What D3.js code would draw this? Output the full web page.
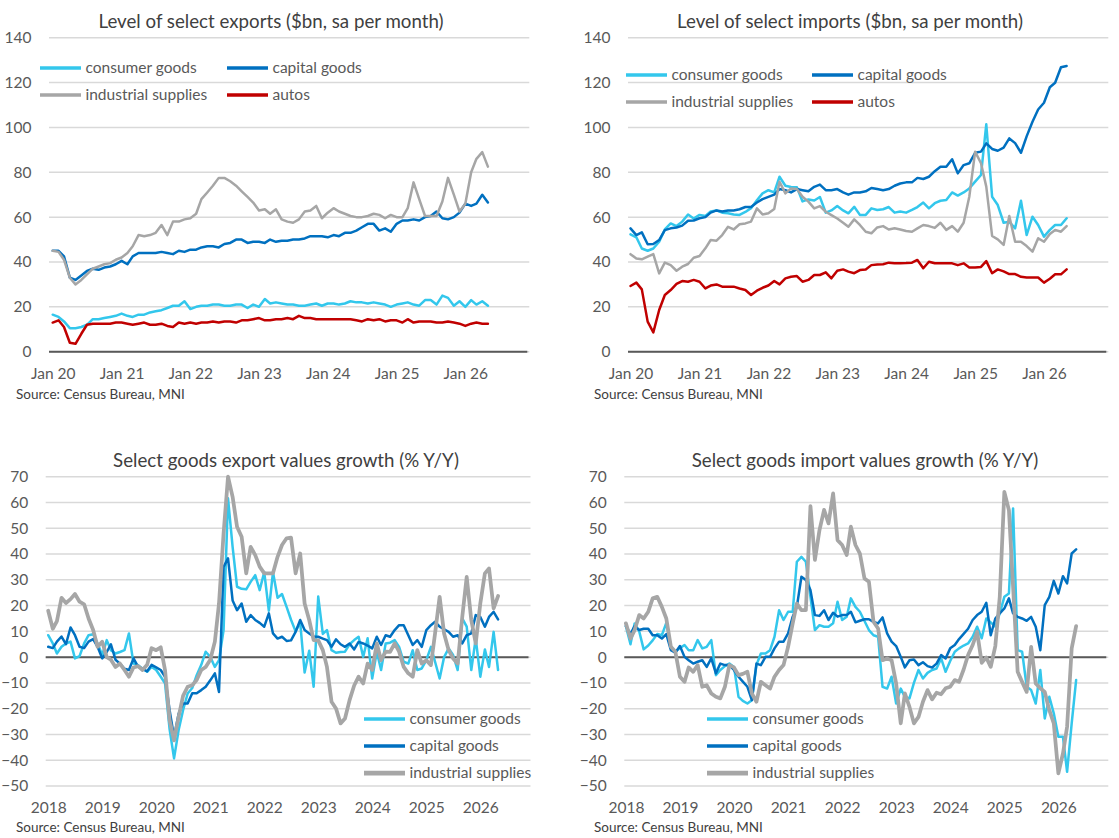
<!DOCTYPE html>
<html>
<head>
<meta charset="utf-8">
<script src="https://cdn.jsdelivr.net/npm/d3@7"></script>
<style>
  body { margin: 0; background: #fff; }
  svg text { font-family: Lato, "Open Sans", sans-serif; }
</style>
</head>
<body>
<svg id="chart" width="1119" height="838"></svg>
<script>
// ---- categories ----
const levelMonths = d3.timeMonth.range(new Date(2020, 0, 1), new Date(2026, 5, 1));   // Jan 20 .. May 26
const growthMonths = d3.timeMonth.range(new Date(2018, 0, 1), new Date(2026, 5, 1));  // Jan 18 .. May 26
const levelXLabels = ["Jan 20", "Jan 21", "Jan 22", "Jan 23", "Jan 24", "Jan 25", "Jan 26"];
const growthXLabels = ["2018", "2019", "2020", "2021", "2022", "2023", "2024", "2025", "2026"];
const levelYTicks = [0, 20, 40, 60, 80, 100, 120, 140];
const growthYTicks = [-50, -40, -30, -20, -10, 0, 10, 20, 30, 40, 50, 60, 70];
const seriesNames = ["consumer goods", "capital goods", "industrial supplies", "autos"];

// ---- exports, level ($bn) ----
const expConsumerLvl = [16.5,15.5,13.5,10.5,10.5,11,12,14.5,14.5,15,15.5,16,
  17,16,15.5,16.5,16.5,17.5,18,18.5,19.5,20.5,20.5,22.5,
  19,20,20.5,20.5,21,21,20.5,20.5,21,21,19.5,21,
  20,23.5,21.5,22,21.5,21,21,20.5,20.5,21,21.5,20.5,
  21.5,21.5,21,21.5,22.5,22,22,21.5,22,21.5,21,20,
  21,21.5,22,21,20.5,23,23,21,25,24,20.5,22.5,
  20,23,21,22.5,20.5];
const expCapitalLvl = [45,45,42.5,33,32,34,36,37,36.5,37.5,38,39,
  40.5,39,42.5,44,44,44,44,44.5,44,43.5,45,44.5,
  45.5,45.5,46.5,47,47,46.5,48,48.5,50,50,48.5,49,
  49,48.5,50,49,49.5,49.5,50,50,50.5,51.5,51.5,51.5,
  51,52,51.5,53,53,54,55.5,57,57,54,55,53.5,
  57,58.5,58.5,59,58.5,60,60.5,62.5,59.5,59,60,62,
  66,65,66,70,66.5];
const expIndustrialLvl = [45,44.5,41,33,30,32,34.5,37,38,39,39.5,41,
  42,44,47,52,51.5,52,53,56.5,52,58,58,59,
  59.5,61.5,68,71,74,77.5,77.5,76,74,71.5,69,66.5,
  63,63.5,61.5,63.5,59,58,57.5,59,62.5,63,65,59.5,
  62,64,62.5,61.5,60.5,60,60,60.5,61.5,61,59.5,61,
  60,60,64,75.5,68,60.5,60.5,60.5,67,77.5,70,62.5,
  66,80,86,89,82.5];
const expAutosLvl = [13,14,11,4,3.5,8,12,12.5,12.5,12.5,12.5,13,
  13,12.5,12,12.5,13,12,12,12.5,11.5,11,13,12.5,
  13,12.5,13,13,13.5,13,13.5,13.5,13,14,14,14.5,
  15,14,14,14.5,14.5,15,14.5,16,15,15,14.5,14.5,
  14.5,14.5,14.5,14.5,14.5,14,13.5,14.5,14,14.5,13.5,14,
  14,13,14.5,13,13.5,13.5,13.5,13,13,13.5,13,12.5,
  11.5,12.5,13,12.5,12.5];

// ---- imports, level ($bn) ----
const impConsumerLvl = [52.3,51,46,45,46,49,54.5,57.2,56,58,61.2,59.4,
  61,60.5,62.5,63,62,61.7,61.2,61,62.3,64,67.5,70.6,
  72,71,78,74,73.4,73.3,67,67.9,67.4,69,62,63,
  65,63,61.7,64.6,61,61,63.9,63.2,63.5,64.5,62,62.5,
  62,63.2,64.5,66.5,63.9,66.2,67.3,67.6,71,69.6,71,72.8,
  75.8,78.8,101.4,69.1,65.4,57.5,57.9,55,67.3,52,60.2,56.5,
  51.3,54.3,56.5,56.5,59.5];
const impCapitalLvl = [55,52,53.2,47.9,48,49.8,54.2,55,55.4,56.2,58.4,58.5,
  59.5,60,62,63,62.5,63,63,63.5,64.5,64.5,66.5,68,
  69,70,72.5,72,71,72.5,72,71.5,73.5,74.5,72,72,
  72.5,71,70,71,71,71.5,73,72.5,72,72.5,74,75,
  75.5,75.5,77.5,77,78,80.5,82.5,82.5,85.8,79.5,83.2,84,
  88.7,89.2,92.9,90.4,89.6,91,95.1,93,88.7,96,102.5,108,
  111,117.9,119.9,126.8,127.4];
const impIndustrialLvl = [43.5,41.6,41.2,42.4,43.5,34.9,39.7,38.6,36.1,37.9,39.1,41.9,
  42.7,46.1,49.8,49.5,52,55.7,54.5,56.8,57.2,58,63.9,61.2,
  61.7,63.6,75.8,70.6,72.8,72.5,69.1,66.9,63.9,64.9,62.4,60.9,
  59.4,57.5,55.7,59,56.5,53.5,52.8,55.4,56,54.5,55,54.5,
  53.8,53.5,55,56.5,56,55.2,57.5,54.3,56,53.5,57.5,69.1,
  89.2,84,73.6,51.6,50.1,47.6,60.5,49,49,47.1,44.6,50.6,
  49,52.5,54.3,53.5,56];
const impAutosLvl = [29.3,30.8,27.8,13.4,8.6,18.6,25.3,27.5,30.2,31.5,31.2,32,
  31.2,28.2,29.5,30,29,29,29,28.2,27.5,25.3,27.2,28.5,
  29.5,31.5,30,32.7,33.4,33.7,31.2,32,34.2,34.2,35.4,32.7,
  36.1,36.7,35.7,35,36.4,36.7,38.6,38.9,39,39.7,39.4,39.4,
  39.5,39.7,40.9,37.2,40.1,39.4,39.4,39.4,39.4,38.6,39.4,37.5,
  37.5,37.8,40.4,35,36.7,35.8,34.6,34.6,33.4,33.1,33.1,33.1,
  30.8,32.5,34.5,34.5,36.7];

// ---- exports, growth (% y/y) ----
const expConsumerGr = [8.5,5.3,1.4,4,5.3,6,-0.5,0.4,5.3,8.5,8.9,5.3,
  0.8,6.6,2.7,1.4,2,2.7,9.2,-2.5,-3.1,-4.5,-5.7,-3.8,
  -5,-7.6,-10.2,-28,-39.3,-28.3,-20.6,-14.1,-12,-7,-3,2.1,
  0.1,-3.8,-1.2,10.5,61.6,42.8,27.3,26.5,26.3,29.2,31.8,26,
  33,18,33,23,24.5,19.5,14.5,10,13.5,-6,2.5,-11.5,
  23.5,9,10.5,2.7,1.7,2,2.1,5,6.6,7.9,0.1,7.3,
  -8.3,2.1,-5,5.3,5.6,6.6,4,-1.8,-2.5,2.7,-5,-4.4,
  -1.2,4,-1.8,-8.3,0,3.4,0.8,-5,15,11.8,-5,7.3,
  -7.6,3,-3.8,9.8,-5];
const expCapitalGr = [4,3.5,6,8,5,11.5,8.5,4,3.5,6,7,4,
  -0.5,2,5,-1,-2.5,-4.5,-5,-0.5,-3.8,-4.5,-5.5,-3,
  -4,-5,-7.6,-20.6,-31,-22,-18,-18,-14,-14,-12.8,-11.5,
  -9,-6.3,-13.5,35,38.3,22,18.2,20.8,13.7,16.3,14.4,13.3,
  11.8,17,9.2,7.2,7.9,6.3,6.5,9.8,14.4,10.5,9.2,8,
  7.9,7.2,6.6,4,6.9,5,4,5.3,3,5.9,5.3,4.5,
  3.4,7.9,4.7,8.5,7.9,10.5,12.4,12.4,8.5,4.7,6.6,4,
  10.5,12.4,13.7,11.8,10.8,9.8,7.9,8.5,5.3,8.5,9.2,16.3,
  15.6,11.8,15.6,17.6,14.6];
const expIndustrialGr = [18,11,14,23,21,22.5,24.5,21.5,20.5,15,10.5,4,
  6,0,-1,-3.8,-2.5,-5,-7.6,-4,-3.5,-5,-3,3.5,
  2.7,3.8,-5,-24.5,-32.3,-23.2,-15,-11.5,-10.9,-8.9,-5,-3.8,
  -1,6,20.8,48,70,62.2,50.6,46.7,32.5,42.8,39.6,35.1,
  32.5,32.5,32.5,38.9,43.5,46.1,46.4,32.5,40.2,20.8,14.4,6.6,
  6.5,2.7,-3.8,-17.3,-19.9,-25.7,-23.8,-16.7,-11,-7.6,-10.2,-2.5,
  -5,5.3,-1.2,2.1,2,5.3,2.1,-3.8,-6.3,-7.6,2.7,-2.5,
  -1.2,-3.1,9.2,23.4,9.2,2.7,-0.5,-2.5,15.6,31.1,14.4,5.3,
  20.8,32.5,34.4,18.9,23.7];

// ---- imports, growth (% y/y) ----
const impConsumerGr = [12,5,13,10,3,4.5,6.5,9,8.5,13.3,4,2.1,
  3.5,4.7,2.7,2.7,6.6,3.4,4,6.6,-7,-5,-3.5,-2.5,
  -3.8,-15.4,-17,-18,-16.7,-3,1.4,1.4,2.7,7.9,18.2,14.4,
  17.6,17.6,37,38.9,37,23.4,10.5,12.4,11.8,11.8,13.1,21.5,
  14.4,15.7,22.8,19.5,17.6,14,10.5,8.5,7.9,-11.5,-12.2,-7.6,
  -18,-12.2,-15.4,-16,-10,-5,-8.3,-6.1,-5,-4.4,-0.5,-5.7,
  -1.5,2.1,3.4,4.5,5.3,7.9,11.8,7.3,15,13.5,11.8,17,
  23.4,24.7,57.7,2.7,2.1,-11.5,-12.8,-18,-5,-23.8,-15.4,-21.8,
  -30.9,-30.9,-44.5,-25.7,-8.9];
const impCapitalGr = [12,9,12,10.5,11,11,8.5,8.5,7.2,8.9,2.7,1.7,
  4.3,0.1,-1.2,-2.5,-1.8,-1.2,-3.8,-0.5,-6.3,-2.5,-3.1,-3.1,
  -5,-7.6,-9.5,-11.5,-16.7,-2.5,-3.1,0.1,0.1,3.4,6,6,
  9.2,15.7,19.5,31.2,29.9,26,16.3,16,18.2,14.4,17.2,15.7,
  16.3,16.3,17.6,13.5,14.1,14.7,14.7,13.7,13.1,15.4,9.2,6,
  4.3,0.1,-4,-1.2,-0.9,-3.1,-2,-3.5,-4,-2.5,0.8,-0.5,
  3.4,4.7,7,9,11,14.4,16.3,17.6,21.1,8.5,15,17,
  18.9,22.8,17,15.6,15,14.1,15.6,11.8,2.7,20.2,23.4,29.6,
  24.7,31.4,28.6,40.2,41.8];
const impIndustrialGr = [13.1,7.2,10.5,16.3,15,17.6,22.8,23.4,19.5,15,4,2.1,
  -7.6,-9.6,-4,-5.7,-3.1,-11.5,-10.9,-14.1,-15.4,-16,-11.5,-3.1,
  -4,-7,-6.5,-5.7,-14.1,-17.3,-9.6,-10.9,-12.2,-7.6,-5,-3.1,
  4,13.1,20.8,18.2,18.2,58.6,37.7,49.3,57.1,51.9,63.5,45.4,
  43.5,39.6,50.6,43.5,40.2,30.5,29.2,13.7,11.1,-1.2,-0.5,-1.2,
  -10.2,-25.7,-14.1,-19.3,-25.7,-23.2,-17.3,-12.8,-16.4,-13.8,-14.4,-12.1,
  -11.5,-8.9,-9.6,-4.8,0.8,4.7,9.8,-2.2,-0.1,-3.8,4.3,23.4,
  64.1,57,27.3,-5.7,-9.6,-13.5,4,-10.2,-12.1,-13.5,-20.6,-25.7,
  -45.1,-37.4,-27,3.4,12];

// ---- styling ----
const FONT = "Lato, 'Open Sans', sans-serif";
const colors = { consumer: "#33C7EC", capital: "#0070C0", industrial: "#A6A6A6", autos: "#C00000" };

const svg = d3.select("#chart");

function drawPanel(p) {
  const g = svg.append("g");
  // data positions run from the first month to Dec 2026; gridlines start a touch further left
  const x = d3.scaleTime().domain(p.xDomain).range([p.dx0, p.dx1]);
  const y = d3.scaleLinear().domain([p.yTicks[0], p.yTicks[p.yTicks.length - 1]]).range([p.yBottom, p.yTop]);

  g.selectAll("line.grid")
    .data(p.yTicks)
    .enter()
    .append("line")
    .attr("class", "grid")
    .attr("x1", p.gx0).attr("x2", p.gx1)
    .attr("y1", d => y(d)).attr("y2", d => y(d))
    .attr("stroke", "#D9D9D9")
    .attr("stroke-width", 1.5);

  g.append("line")
    .attr("x1", p.gx0).attr("x2", p.gx1 - 2)
    .attr("y1", y(0)).attr("y2", y(0))
    .attr("stroke", "#595959")
    .attr("stroke-width", 2);

  const yAxis = g.append("g")
    .attr("transform", `translate(${p.gx0},0)`)
    .call(d3.axisLeft(y).tickValues(p.yTicks).tickSize(0).tickPadding(17.5));
  yAxis.select(".domain").remove();
  yAxis.attr("font-family", FONT).attr("font-size", 15.5);
  yAxis.selectAll("text").attr("fill", "#595959");

  const xAxis = g.append("g")
    .attr("transform", `translate(0,${p.yBottom})`)
    .call(d3.axisBottom(x).tickValues(p.xTicks).tickSize(0).tickPadding(16)
      .tickFormat((d, i) => p.xLabels[i]));
  xAxis.select(".domain").remove();
  xAxis.attr("font-family", FONT).attr("font-size", 15.5);
  xAxis.selectAll("text").attr("fill", "#595959");

  const line = d3.line()
    .x((d, i) => x(p.months[i]))
    .y(d => y(d));

  p.series.forEach(s => {
    g.append("path")
      .datum(s.values)
      .attr("d", line)
      .attr("fill", "none")
      .attr("stroke", s.color)
      .attr("stroke-width", s.width)
      .attr("stroke-linejoin", "round")
      .attr("stroke-linecap", "round");
  });

  p.legend.forEach((l, i) => {
    const s = p.series[i];
    g.append("line")
      .attr("x1", l.x).attr("x2", l.x + 41)
      .attr("y1", l.y).attr("y2", l.y)
      .attr("stroke", s.color)
      .attr("stroke-width", s.width + 1);
    g.append("text")
      .attr("x", l.x + 45.5).attr("y", l.y)
      .attr("dy", "0.35em")
      .attr("font-size", 15.5)
      .attr("fill", "#595959")
      .text(s.name);
  });

  g.append("text")
    .attr("x", p.titleX).attr("y", p.titleY)
    .attr("dy", "0.35em")
    .attr("text-anchor", "middle")
    .attr("font-size", 18.7)
    .attr("fill", "#404040")
    .text(p.title);

  g.append("text")
    .attr("x", p.sourceX).attr("y", p.sourceY)
    .attr("dy", "0.35em")
    .attr("font-size", 13.5)
    .attr("fill", "#404040")
    .text("Source: Census Bureau, MNI");
}

const levelDomain = [new Date(2020, 0, 1), new Date(2026, 11, 1)];
const growthDomain = [new Date(2018, 0, 1), new Date(2026, 11, 1)];
const levelTicks = d3.timeYear.range(new Date(2020, 0, 1), new Date(2026, 1, 1));
const growthTicks = d3.timeYear.range(new Date(2018, 0, 1), new Date(2026, 1, 1));

drawPanel({
  title: "Level of select exports ($bn, sa per month)", titleX: 271, titleY: 21,
  gx0: 49, gx1: 529.3, dx0: 52.7, dx1: 528.2, yTop: 37.7, yBottom: 351.7,
  xDomain: levelDomain, xTicks: levelTicks, xLabels: levelXLabels, yTicks: levelYTicks,
  months: levelMonths,
  series: [
    { name: seriesNames[0], values: expConsumerLvl, color: colors.consumer, width: 2.5 },
    { name: seriesNames[1], values: expCapitalLvl, color: colors.capital, width: 2.5 },
    { name: seriesNames[2], values: expIndustrialLvl, color: colors.industrial, width: 2.5 },
    { name: seriesNames[3], values: expAutosLvl, color: colors.autos, width: 2.5 }
  ],
  legend: [{ x: 40, y: 68 }, { x: 227, y: 68 }, { x: 40, y: 95 }, { x: 227, y: 95 }],
  sourceX: 16, sourceY: 394
});

drawPanel({
  title: "Level of select imports ($bn, sa per month)", titleX: 850, titleY: 21,
  gx0: 628, gx1: 1108.3, dx0: 630.5, dx1: 1107, yTop: 37.7, yBottom: 351.7,
  xDomain: levelDomain, xTicks: levelTicks, xLabels: levelXLabels, yTicks: levelYTicks,
  months: levelMonths,
  series: [
    { name: seriesNames[0], values: impConsumerLvl, color: colors.consumer, width: 2.5 },
    { name: seriesNames[1], values: impCapitalLvl, color: colors.capital, width: 2.5 },
    { name: seriesNames[2], values: impIndustrialLvl, color: colors.industrial, width: 2.5 },
    { name: seriesNames[3], values: impAutosLvl, color: colors.autos, width: 2.5 }
  ],
  legend: [{ x: 626, y: 75 }, { x: 812, y: 75 }, { x: 626, y: 102 }, { x: 812, y: 102 }],
  sourceX: 594, sourceY: 394
});

drawPanel({
  title: "Select goods export values growth (% Y/Y)", titleX: 286, titleY: 460,
  gx0: 45.7, gx1: 530.5, dx0: 48.2, dx1: 529.7, yTop: 476.7, yBottom: 786,
  xDomain: growthDomain, xTicks: growthTicks, xLabels: growthXLabels, yTicks: growthYTicks,
  months: growthMonths,
  series: [
    { name: seriesNames[0], values: expConsumerGr, color: colors.consumer, width: 2.5 },
    { name: seriesNames[1], values: expCapitalGr, color: colors.capital, width: 2.5 },
    { name: seriesNames[2], values: expIndustrialGr, color: colors.industrial, width: 3.75 }
  ],
  legend: [{ x: 364, y: 719 }, { x: 364, y: 746 }, { x: 364, y: 773 }],
  sourceX: 16, sourceY: 827
});

drawPanel({
  title: "Select goods import values growth (% Y/Y)", titleX: 865, titleY: 460,
  gx0: 624.3, gx1: 1108.3, dx0: 625.9, dx1: 1107.8, yTop: 476.7, yBottom: 786,
  xDomain: growthDomain, xTicks: growthTicks, xLabels: growthXLabels, yTicks: growthYTicks,
  months: growthMonths,
  series: [
    { name: seriesNames[0], values: impConsumerGr, color: colors.consumer, width: 2.5 },
    { name: seriesNames[1], values: impCapitalGr, color: colors.capital, width: 2.5 },
    { name: seriesNames[2], values: impIndustrialGr, color: colors.industrial, width: 3.75 }
  ],
  legend: [{ x: 707, y: 719 }, { x: 707, y: 746 }, { x: 707, y: 773 }],
  sourceX: 594, sourceY: 827
});
</script>
</body>
</html>
